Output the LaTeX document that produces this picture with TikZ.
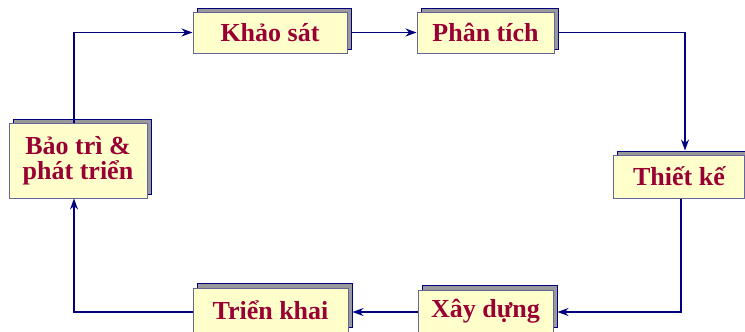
\documentclass[tikz,border=0pt]{standalone}
\usepackage{fontspec}
\setmainfont{Liberation Serif}
\usetikzlibrary{arrows.meta,calc}
\definecolor{linknavy}{HTML}{000080}
\definecolor{cardfill}{HTML}{FFFFCC}
\definecolor{cardedge}{HTML}{666699}
\definecolor{shadefill}{HTML}{999999}
\definecolor{labelred}{HTML}{990033}
\tikzset{
  card/.style={draw=cardedge, line width=1pt, fill=cardfill, inner sep=0pt,
    font=\fontsize{26}{25}\selectfont\bfseries, text=labelred, align=center},
  cardback/.style={draw=linknavy, line width=1pt, fill=shadefill, inner sep=0pt},
  link/.style={draw=linknavy, line width=1.2pt, -{Stealth[length=11pt,width=8pt]}}
}
\begin{document}
\begin{tikzpicture}[x=1pt,y=-1pt]
\useasboundingbox (0,0) rectangle (745,332);
% shadow cards (offset up and right)
\node[cardback, minimum width=154pt, minimum height=41pt] (ksb) at (274,28.5) {};
\node[cardback, minimum width=137pt, minimum height=41pt] (ptb) at (489.5,28.5) {};
\node[cardback, minimum width=138pt, minimum height=75pt] (btb) at (82,156.5) {};
\node[cardback, minimum width=131pt, minimum height=43pt] (tkb) at (683,172.5) {};
\node[cardback, minimum width=135pt, minimum height=42pt] (xdb) at (489.5,306) {};
\node[cardback, minimum width=155pt, minimum height=44pt] (trb) at (274.5,305) {};
% front cards
\node[card, minimum width=154pt, minimum height=41pt] (ks) at (270,32.5) {Khảo sát};
\node[card, minimum width=137pt, minimum height=41pt] (pt) at (485.5,32.5) {Phân tích};
\node[card, minimum width=138pt, minimum height=75pt] (bt) at (78,160.5) {Bảo trì \&\\phát triển};
\node[card, minimum width=131pt, minimum height=43pt] (tk) at (679,176.5) {Thiết kế};
\node[card, minimum width=135pt, minimum height=42pt] (xd) at (485.5,311) {Xây dựng};
\node[card, minimum width=155pt, minimum height=44pt] (tr) at (270.5,310) {Triển khai};
% level of the lower return path
\coordinate (low) at (0,312);
% connectors around the cycle
\draw[link] ([xshift=-4pt]bt.north) |- (ks.west);
\draw[link] (ksb.east |- ks.west) -- (pt.west);
\draw[link] (ptb.east |- pt.west) -| ([xshift=2pt]tkb.north);
\draw[link] ([xshift=2pt]tk.south) |- (xdb.east |- low);
\draw[link] (xd.west |- low) -- (trb.east |- low);
\draw[link] (tr.west |- low) -| ([xshift=-4pt]bt.south);
\end{tikzpicture}
\end{document}
